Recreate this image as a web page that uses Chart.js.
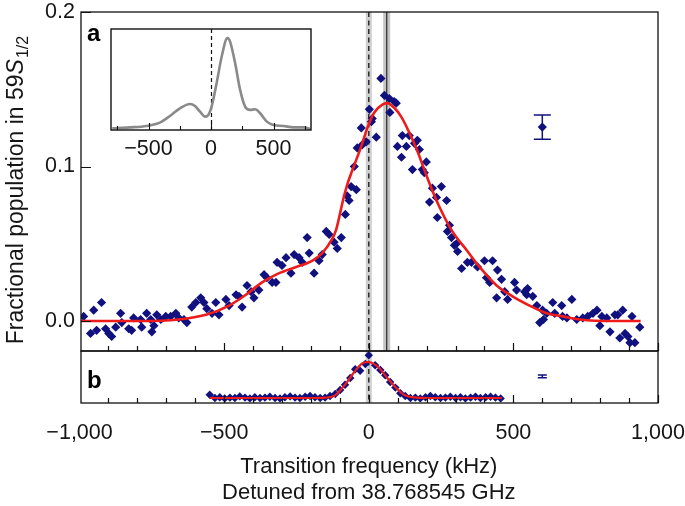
<!DOCTYPE html>
<html><head><meta charset="utf-8">
<script src="https://cdn.jsdelivr.net/npm/chart.js@4"></script>
<style>
html,body{margin:0;padding:0;background:#fff;}
#wrap{position:relative;width:685px;height:506px;background:#fff;}
#main{position:absolute;left:0;top:0;width:685px;height:506px;}
#inset{position:absolute;left:100px;top:20px;width:225px;height:145px;}
</style></head><body>
<div id="wrap"><canvas id="main" width="685" height="506"></canvas><canvas id="inset" width="225" height="145"></canvas></div>
<script>
// ---- Panel a: measured points (kHz, fractional population)
const aX = [-986,-962,-951,-941,-924,-910,-899,-889,-875,-858,-854,-830,-820,-813,-789,-785,-768,-754,-750,-743,-733,-719,-702,-685,-667,-657,-639,-629,-612,-598,-581,-570,-560,-542,-529,-518,-494,-483,-459,-449,-438,-421,-407,-397,-380,-362,-352,-334,-321,-317,-300,-286,-269,-258,-241,-230,-213,-206,-189,-172,-161,-147,-137,-120,-109,-95,-81,-75,-68,-61,-50,-43,-40,-26,-23,-9,2,9,12,26,42,54,71,73,88,95,99,113,116,130,140,151,158,168,175,185,192,199,210,220,234,237,251,269,272,279,286,296,303,307,321,341,355,376,400,407,418,428,442,445,459,470,480,504,511,539,546,549,567,581,591,601,604,615,636,643,667,670,685,702,719,740,757,775,789,799,806,823,834,851,861,868,878,886,896,903,910,920,937];
const aY = [0.003,-0.008,0.007,-0.006,0.012,-0.005,-0.008,-0.010,-0.004,0.005,-0.001,-0.005,-0.006,0.002,0.001,-0.004,0.005,0.001,-0.007,-0.003,0.004,0.001,0.003,0.003,0.005,0.002,0.001,-0.001,0.009,0.012,0.015,0.012,0.008,0.005,0.012,0.004,0.014,0.010,0.017,0.016,0.009,0.023,0.019,0.015,0.020,0.030,0.028,0.025,0.025,0.038,0.036,0.041,0.031,0.043,0.041,0.038,0.054,0.044,0.031,0.039,0.043,0.058,0.056,0.051,0.047,0.054,0.069,0.081,0.078,0.087,0.100,0.085,0.112,0.125,0.114,0.116,0.137,0.129,0.131,0.119,0.157,0.146,0.144,0.135,0.142,0.141,0.113,0.106,0.120,0.113,0.120,0.098,0.115,0.117,0.111,0.098,0.096,0.103,0.077,0.086,0.080,0.067,0.087,0.078,0.058,0.062,0.054,0.049,0.050,0.045,0.034,0.038,0.038,0.035,0.039,0.028,0.025,0.039,0.015,0.033,0.027,0.019,0.014,0.025,0.020,0.019,0.017,0.021,0.016,0.010,-0.001,0.007,0.001,0.005,0.012,0.005,0.010,0.003,0.002,0.014,0.001,0.002,0.003,0.005,0.007,-0.003,0.003,0.002,-0.007,0.004,0.004,-0.011,0.007,-0.008,-0.010,-0.014,0.003,-0.014,-0.004];
// ---- Panel a: fitted curve
const fitAX = [-1000,-800,-657,-563,-483,-425,-369,-310,-251,-196,-161,-127,-113,-100,-88,-75,-62,-50,-26,-5,19,47,64,88,113,140,168,192,210,244,289,338,383,442,497,556,615,671,730,844,940];
const fitAY = [0,0,0.001,0.004,0.010,0.017,0.025,0.031,0.035,0.039,0.044,0.053,0.059,0.069,0.079,0.088,0.095,0.101,0.113,0.125,0.135,0.140,0.141,0.138,0.132,0.122,0.110,0.098,0.089,0.074,0.058,0.046,0.035,0.023,0.016,0.010,0.005,0.003,0.001,0,0];
// ---- Panel b: measured points (relative units) and fit
const bX = [-550,-532,-515,-498,-480,-463,-446,-428,-411,-394,-376,-359,-342,-324,-307,-290,-272,-255,-238,-220,-203,-186,-168,-151,-134,-116,-99,-82,-64,-47,-30,-12,0,22,40,57,74,92,109,126,144,161,178,196,213,230,248,265,282,300,317,334,352,369,386,404,421,438,456];
const bY = [0.08,0.0,0.02,-0.01,0.01,0.0,0.04,0.01,-0.01,0.02,0.0,0.01,0.03,0.0,-0.01,0.02,0.04,0.01,0.0,0.03,0.05,0.02,0.0,0.01,0.05,0.1,0.2,0.33,0.5,0.72,0.68,0.85,1.07,0.82,0.7,0.57,0.4,0.26,0.12,0.05,0.0,0.01,-0.01,0.02,0.05,0.02,0.0,0.01,0.03,0.0,0.02,-0.01,0.01,0.03,0.0,0.02,0.03,0.01,-0.01];
const fitBX = [-550,-200,-150,-120,-92,-70,-50,-22,0,20,36,64,95,123,164,200,460];
const fitBY = [0,0,0.01,0.05,0.25,0.45,0.65,0.87,0.9,0.84,0.75,0.5,0.25,0.075,0.01,0,0];
// ---- Representative error bars
const errA = {x:600, y:0.1255, err:0.0078};
const errB = {x:600, y:0.54, err:0.035};
// ---- Markers: zero detuning and fitted centre
const zeroLine = 0;
const centreLine = 62;
// ---- Inset curve
const inX = [-790,-650,-516,-409,-329,-249,-168,-128,-88,-48,-21,5,45,86,131,152,193,233,273,313,353,393,447,500,580,660,741,794];
const inY = [0.017,0.026,0.04,0.073,0.139,0.215,0.258,0.238,0.182,0.132,0.149,0.232,0.464,0.73,0.91,0.877,0.662,0.397,0.232,0.199,0.205,0.166,0.083,0.05,0.04,0.026,0.026,0.01];
// ---- Tick labels
const xTickValues = [-1000,-500,0,500,1000];
const xTickLabels = ['\u22121,000','\u2212500','0','500','1,000'];
const yTickValues = [0,0.1,0.2];
const yTickLabels = ['0.0','0.1','0.2'];
const inTickValues = [-500,0,500];
const inTickLabels = ['\u2212500','0','500'];

const FONT = "'Liberation Sans', Arial, Helvetica, sans-serif";
const NAVY = '#10107e';
const RED = '#ee1b1b';
const TXT = '#151515';
const TICKSIZE = 21.5;
const pts = (xs, ys) => xs.map((x, i) => ({x: x, y: ys[i]}));

const bandsPlugin = {
  id: 'bands',
  beforeDatasetsDraw(chart) {
    const ctx = chart.ctx, xs = chart.scales.x, ya = chart.scales.y, yb = chart.scales.yb;
    const top = ya.top, bot = yb.bottom;
    ctx.save();
    const x0 = xs.getPixelForValue(zeroLine);
    ctx.fillStyle = '#cfcfcf';
    ctx.fillRect(x0 - 3, top, 6, bot - top);
    ctx.strokeStyle = '#222';
    ctx.lineWidth = 1.4;
    ctx.setLineDash([5, 3.5]);
    ctx.beginPath(); ctx.moveTo(x0, top); ctx.lineTo(x0, bot); ctx.stroke();
    ctx.setLineDash([]);
    const x1 = xs.getPixelForValue(centreLine);
    ctx.fillStyle = '#c4c4c4';
    ctx.fillRect(x1 - 3.5, ya.top, 7, ya.bottom - ya.top);
    ctx.strokeStyle = '#333';
    ctx.lineWidth = 1.3;
    ctx.beginPath(); ctx.moveTo(x1, ya.top); ctx.lineTo(x1, ya.bottom); ctx.stroke();
    ctx.restore();
  }
};

function errorBar(ctx, xs, ys, e, halfCap) {
  const px = xs.getPixelForValue(e.x);
  const p1 = ys.getPixelForValue(e.y + e.err), p2 = ys.getPixelForValue(e.y - e.err);
  ctx.beginPath();
  ctx.moveTo(px, p1); ctx.lineTo(px, p2);
  ctx.moveTo(px - halfCap, p1); ctx.lineTo(px + halfCap, p1);
  ctx.moveTo(px - halfCap, p2); ctx.lineTo(px + halfCap, p2);
  ctx.stroke();
}

const framePlugin = {
  id: 'frame',
  afterDraw(chart) {
    const ctx = chart.ctx, xs = chart.scales.x, ya = chart.scales.y, yb = chart.scales.yb;
    const L = xs.left, R = xs.right;
    ctx.save();
    ctx.strokeStyle = '#111';
    ctx.lineWidth = 1.3;
    ctx.strokeRect(L, ya.top, R - L, ya.bottom - ya.top);
    ctx.strokeRect(L, yb.top, R - L, yb.bottom - yb.top);
    ctx.lineWidth = 1.2;
    ctx.beginPath();
    for (let v = -900; v <= 1000; v += 100) {
      const px = Math.round(xs.getPixelForValue(v)) + 0.5;
      const len = (v % 500 === 0) ? 8 : 5;
      ctx.moveTo(px, ya.bottom); ctx.lineTo(px, ya.bottom - len);
      ctx.moveTo(px, yb.bottom); ctx.lineTo(px, yb.bottom - len);
    }
    yTickValues.forEach(v => {
      const py = Math.round(ya.getPixelForValue(v)) + 0.5;
      ctx.moveTo(L, py); ctx.lineTo(L + 10, py);
    });
    ctx.stroke();
    ctx.strokeStyle = NAVY;
    ctx.lineWidth = 1.5;
    errorBar(ctx, xs, ya, errA, 8.5);
    errorBar(ctx, xs, yb, errB, 4.5);
    ctx.fillStyle = '#000';
    ctx.font = 'bold 24px ' + FONT;
    ctx.textBaseline = 'alphabetic';
    ctx.textAlign = 'left';
    ctx.fillText('a', L + 6, ya.top + 29);
    ctx.fillText('b', L + 6, yb.top + 37);
    ctx.fillStyle = TXT;
    ctx.font = '22px ' + FONT;
    ctx.textAlign = 'center';
    ctx.textBaseline = 'middle';
    const cx = xs.getPixelForValue(0);
    ctx.fillText('Transition frequency (kHz)', cx, 467);
    ctx.fillText('Detuned from 38.768545 GHz', cx, 493);
    ctx.save();
    ctx.translate(17, 190);
    ctx.rotate(-Math.PI / 2);
    const f = 23;
    const fs = Math.round(f * 0.7);
    const p1 = 'Fractional population in 59', p2 = 'S', p3 = '1/2';
    ctx.font = f + 'px ' + FONT; const w1 = ctx.measureText(p1).width;
    ctx.font = 'italic ' + f + 'px ' + FONT; const w2 = ctx.measureText(p2).width;
    ctx.font = fs + 'px ' + FONT; const w3 = ctx.measureText(p3).width;
    let x = -(w1 + w2 + w3 + 1) / 2;
    ctx.textAlign = 'left';
    ctx.textBaseline = 'middle';
    ctx.font = f + 'px ' + FONT; ctx.fillText(p1, x, 0); x += w1;
    ctx.font = 'italic ' + f + 'px ' + FONT; ctx.fillText(p2, x, 0); x += w2 + 1;
    ctx.font = fs + 'px ' + FONT; ctx.fillText(p3, x, f * 0.3);
    ctx.restore();
    ctx.restore();
  }
};

new Chart(document.getElementById('main'), {
  type: 'scatter',
  data: {
    datasets: [
      {data: pts(fitAX, fitAY), yAxisID: 'y', showLine: true, borderColor: RED, borderWidth: 2.6, pointRadius: 0, cubicInterpolationMode: 'monotone', fill: false},
      {data: pts(fitBX, fitBY), yAxisID: 'yb', showLine: true, borderColor: RED, borderWidth: 2.2, pointRadius: 0, cubicInterpolationMode: 'monotone', fill: false},
      {data: pts(aX, aY), yAxisID: 'y', pointStyle: 'rectRot', pointRadius: 4.6, backgroundColor: NAVY, borderColor: NAVY, borderWidth: 0, showLine: false},
      {data: pts(bX, bY), yAxisID: 'yb', pointStyle: 'rectRot', pointRadius: 4.2, backgroundColor: NAVY, borderColor: NAVY, borderWidth: 0, showLine: false},
      {data: [{x: errA.x, y: errA.y}], yAxisID: 'y', pointStyle: 'rectRot', pointRadius: 4.6, backgroundColor: NAVY, borderColor: NAVY, borderWidth: 0, showLine: false}
    ]
  },
  options: {
    responsive: false, animation: false, devicePixelRatio: 1,
    layout: {padding: {left: 0, right: 27, top: 12, bottom: 0}},
    plugins: {legend: {display: false}, tooltip: {enabled: false}},
    scales: {
      x: {
        type: 'linear', position: 'bottom', min: -995, max: 1000,
        grid: {display: false, drawTicks: false}, border: {display: false},
        afterBuildTicks: s => { s.ticks = xTickValues.map(v => ({value: v})); },
        ticks: {callback: v => xTickLabels[xTickValues.indexOf(v)], font: {family: FONT, size: TICKSIZE}, color: TXT, padding: 17, maxRotation: 0, autoSkip: false},
        afterFit: s => { s.height = 103; s.paddingLeft = 0; s.paddingRight = 0; }
      },
      y: {
        type: 'linear', position: 'left', stack: 'panels', stackWeight: 339, weight: 2, min: -0.0194, max: 0.2,
        grid: {display: false, drawTicks: false}, border: {display: false},
        afterBuildTicks: s => { s.ticks = yTickValues.map(v => ({value: v})); },
        ticks: {callback: v => yTickLabels[yTickValues.indexOf(v)], font: {family: FONT, size: TICKSIZE}, color: TXT, padding: 6},
        afterFit: s => { s.width = 81; s.paddingTop = 0; s.paddingBottom = 0; }
      },
      yb: {
        type: 'linear', position: 'left', stack: 'panels', stackWeight: 52, weight: 1, min: -0.125, max: 1.175,
        grid: {display: false, drawTicks: false}, border: {display: false},
        ticks: {display: false},
        afterFit: s => { s.width = 81; s.paddingTop = 0; s.paddingBottom = 0; }
      }
    }
  },
  plugins: [bandsPlugin, framePlugin]
});

const insetPlugin = {
  id: 'insetFrame',
  beforeDatasetsDraw(chart) {
    const ctx = chart.ctx, xs = chart.scales.x, a = chart.chartArea;
    const x0 = Math.round(xs.getPixelForValue(0)) + 0.5;
    ctx.save();
    ctx.strokeStyle = '#111'; ctx.lineWidth = 1.2; ctx.setLineDash([4, 3]);
    ctx.beginPath(); ctx.moveTo(x0, a.top); ctx.lineTo(x0, a.bottom); ctx.stroke();
    ctx.restore();
  },
  afterDraw(chart) {
    const ctx = chart.ctx, xs = chart.scales.x, a = chart.chartArea;
    ctx.save();
    ctx.strokeStyle = '#111'; ctx.lineWidth = 1.4;
    ctx.strokeRect(a.left, a.top, a.right - a.left, a.bottom - a.top);
    ctx.lineWidth = 1.1;
    ctx.beginPath();
    for (let v = -750; v <= 750; v += 250) {
      const px = Math.round(xs.getPixelForValue(v)) + 0.5;
      const len = (v % 500 === 0) ? 7 : 4;
      ctx.moveTo(px, a.bottom); ctx.lineTo(px, a.bottom - len);
    }
    ctx.stroke();
    ctx.restore();
  }
};

new Chart(document.getElementById('inset'), {
  type: 'scatter',
  data: {datasets: [{data: pts(inX, inY), showLine: true, borderColor: '#8a8a8a', borderWidth: 2.6, pointRadius: 0, cubicInterpolationMode: 'monotone', fill: false}]},
  options: {
    responsive: false, animation: false, devicePixelRatio: 1,
    layout: {padding: {left: 11, right: 14, top: 9, bottom: 0}},
    plugins: {legend: {display: false}, tooltip: {enabled: false}},
    scales: {
      x: {
        type: 'linear', min: -800, max: 800,
        grid: {display: false, drawTicks: false}, border: {display: false},
        afterBuildTicks: s => { s.ticks = inTickValues.map(v => ({value: v})); },
        ticks: {callback: v => inTickLabels[inTickValues.indexOf(v)], font: {family: FONT, size: TICKSIZE}, color: TXT, padding: 6, maxRotation: 0, autoSkip: false},
        afterFit: s => { s.height = 35; s.paddingLeft = 0; s.paddingRight = 0; }
      },
      y: {display: false, min: 0, max: 1}
    }
  },
  plugins: [insetPlugin]
});
</script>
</body></html>
